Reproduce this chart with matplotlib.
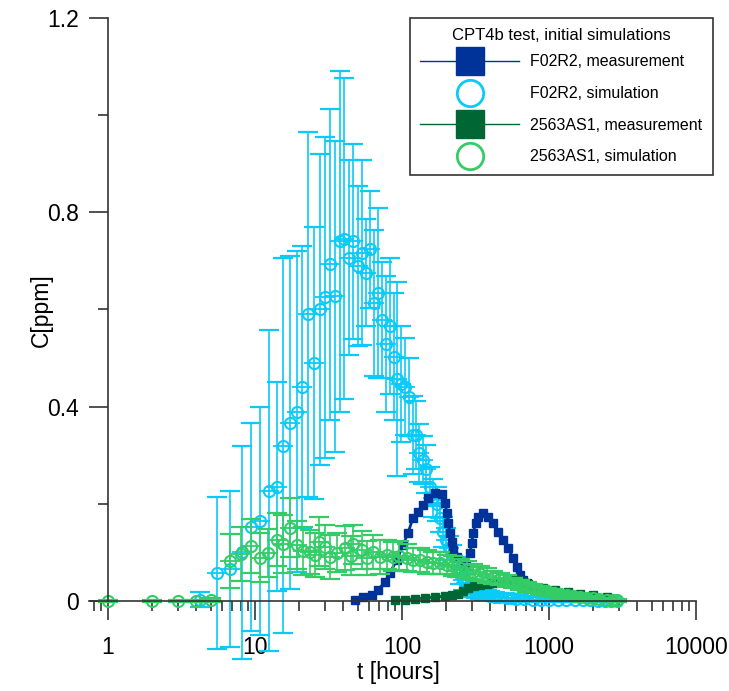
import numpy as np
import matplotlib.pyplot as plt
from matplotlib.lines import Line2D

plt.rcParams['font.family'] = ['Liberation Sans', 'DejaVu Sans']

# F02R2 measurement (t [h], C [ppm])
f02_meas_t = [47.9, 54.3, 62.5, 68.7, 76.6, 82.8, 92.5, 101.6, 109.9, 118.8, 128.5, 139, 150.3,
              167.6, 187, 196, 202, 206, 212, 219, 222, 237, 256, 272, 290, 299, 304, 319, 329,
              356, 385, 416, 450, 486, 526, 569, 606, 635, 666, 708]
f02_meas_c = [0.002, 0.008, 0.012, 0.023, 0.039, 0.058, 0.085, 0.115, 0.14, 0.171, 0.184, 0.198, 0.212,
              0.223, 0.221, 0.202, 0.181, 0.161, 0.14, 0.122, 0.105, 0.091, 0.078, 0.072, 0.099, 0.12,
              0.14, 0.161, 0.173, 0.181, 0.173, 0.161, 0.142, 0.126, 0.109, 0.089, 0.07, 0.054, 0.043, 0.037]

# F02R2 simulation with error
f02_sim_t = [4.2, 5.5, 6.8, 8.2, 9.4, 10.8, 12.4, 14.1, 15.5, 17.3, 19.3, 20.9, 22.9, 25.2, 27.7,
             29.9, 32.4, 35.0, 37.9, 40.3, 43.6, 46.4, 50.2, 53.5, 56.9, 60.6, 64.5, 68.7, 73.1,
             77.8, 82.8, 88.2, 92.5, 98.5, 104.8, 111.6, 118.8, 124.6, 130.5, 139, 145.6, 155,
             162.5, 173, 181, 190, 199, 209, 219,
             237, 250, 260, 272, 285, 304, 320, 340, 360, 378, 400, 430, 460, 518, 560, 600, 680,
             778, 880, 1000, 1150, 1300, 1500, 1700, 1900, 2150, 2400, 2650, 2900]
f02_sim_c = [0.003, 0.058, 0.066, 0.10, 0.153, 0.165, 0.227, 0.235, 0.32, 0.367, 0.39, 0.44, 0.59, 0.49, 0.60,
             0.625, 0.693, 0.627, 0.74, 0.746, 0.707, 0.74, 0.689, 0.717, 0.676, 0.724, 0.614, 0.633, 0.578,
             0.528, 0.567, 0.503, 0.457, 0.447, 0.441, 0.42, 0.342, 0.342, 0.305, 0.29, 0.272, 0.235,
             0.212, 0.20, 0.171, 0.142, 0.126, 0.109, 0.095,
             0.07, 0.055, 0.043, 0.038, 0.03, 0.023, 0.02, 0.016, 0.014, 0.012, 0.011, 0.009, 0.008, 0.006,
             0.006, 0.005, 0.004, 0.003, 0.003, 0.002, 0.002, 0.0015, 0.001, 0.001, 0.001, 0.0005, 0.0005,
             0.0005, 0.0]
f02_sim_err = [0.016, 0.157, 0.16, 0.22, 0.214, 0.235, 0.33, 0.215, 0.385, 0.343, 0.33, 0.29, 0.375, 0.28, 0.32,
               0.33, 0.32, 0.32, 0.35, 0.33, 0.2, 0.2, 0.165, 0.19, 0.11, 0.12, 0.15, 0.175, 0.12,
               0.14, 0.14, 0.13, 0.2, 0.12, 0.1, 0.08, 0.08, 0.07, 0.06, 0.05, 0.05, 0.04,
               0.04, 0.035, 0.03, 0.03, 0.025, 0.025, 0.02,
               0.02, 0.02, 0.02, 0.018, 0.016, 0.015, 0.014, 0.012, 0.012, 0.01, 0.01, 0.01, 0.009, 0.008,
               0.008, 0.008, 0.007, 0.006, 0.005, 0.005, 0.004, 0.004, 0.003, 0.003, 0.003, 0.002, 0.002,
               0.002, 0.002]

# 2563AS1 measurement
as1_meas_t = [89.6, 104.8, 122.5, 143, 167.6, 196, 219, 240, 260, 281, 309, 340, 378, 416, 464, 518,
              569, 615, 666, 720, 778, 910, 1099, 1346, 1625, 1992, 2484]
as1_meas_c = [0.002, 0.002, 0.004, 0.006, 0.008, 0.01, 0.012, 0.014, 0.021, 0.027, 0.031, 0.033, 0.035,
              0.037, 0.039, 0.043, 0.045, 0.043, 0.039, 0.035, 0.029, 0.027, 0.023, 0.019, 0.014, 0.012, 0.008]

# 2563AS1 simulation with error
as1_sim_t = [1, 2, 3, 4, 5, 6.76, 8.04, 9.4, 10.8, 12.2, 14.1, 15.5, 17.3, 19.3, 21.2, 23.6, 25.6, 27.2,
             29.9, 32.4, 36.1, 40.9, 45.3, 46.4, 53.5, 57.8, 63.5, 70.5, 78.9, 86.8, 96, 108, 119, 133,
             147, 163, 181, 202, 222, 249, 276, 304, 339, 378, 416, 464, 518, 569, 635, 708, 778, 865,
             965, 1063, 1188, 1320, 1450, 1620, 1800, 2000, 2200, 2480, 2720, 2900]
as1_sim_c = [0.0, 0.0, 0.0, 0.0, 0.002, 0.082, 0.097, 0.113, 0.089, 0.099, 0.126, 0.118, 0.151, 0.115, 0.103,
             0.101, 0.095, 0.122, 0.111, 0.091, 0.099, 0.109, 0.093, 0.117, 0.105, 0.089, 0.101, 0.091,
             0.095, 0.091, 0.093, 0.089, 0.085, 0.085, 0.08, 0.078, 0.078, 0.075, 0.072, 0.068, 0.064,
             0.06, 0.056, 0.052, 0.048, 0.045, 0.041, 0.037, 0.033, 0.029, 0.026, 0.023, 0.02, 0.017,
             0.015, 0.013, 0.011, 0.009, 0.007, 0.006, 0.004, 0.003, 0.002, 0.001]
as1_sim_err = [0.003, 0.003, 0.003, 0.003, 0.005, 0.055, 0.055, 0.055, 0.05, 0.05, 0.055, 0.06, 0.06, 0.05, 0.05,
               0.045, 0.045, 0.05, 0.045, 0.045, 0.04, 0.045, 0.04, 0.04, 0.04, 0.035, 0.035, 0.035,
               0.03, 0.03, 0.03, 0.028, 0.025, 0.025, 0.025, 0.022, 0.022, 0.02, 0.02, 0.018, 0.018,
               0.016, 0.015, 0.015, 0.014, 0.013, 0.012, 0.011, 0.01, 0.01, 0.009, 0.008, 0.007, 0.007,
               0.006, 0.006, 0.005, 0.005, 0.004, 0.004, 0.003, 0.003, 0.003, 0.003]

c_blue = '#003399'
c_cyan = '#0ACBF8'
c_dgreen = '#006633'
c_green = '#33CC66'

fig = plt.figure(figsize=(7.29, 6.91), dpi=100)
ax = fig.add_axes([89 / 729, 22 / 691, 607 / 729, 651 / 691])


def sim(t, c, e, col):
    ax.errorbar(t, c, yerr=e, fmt='none', ecolor=col, elinewidth=1.2, capsize=7, capthick=1.6)
    ax.plot(t, c, 'o', ls='none', mfc='none', mec=col, ms=8, mew=1.5)
    ax.plot(t, c, '_', ls='none', color=col, ms=15, mew=1.3)


sim(f02_sim_t, f02_sim_c, f02_sim_err, c_cyan)
ax.plot(f02_meas_t, f02_meas_c, color=c_blue, lw=2, marker='s', ms=6, mec=c_blue, mfc=c_blue)
ax.plot(as1_meas_t, as1_meas_c, color=c_dgreen, lw=2, marker='s', ms=6, mec=c_dgreen, mfc=c_dgreen)
sim(as1_sim_t, as1_sim_c, as1_sim_err, c_green)

ax.set_xscale('log')
ax.set_xlim(0.743, 10000)
ax.set_ylim(-0.14, 1.2)

for s in ['top', 'right']:
    ax.spines[s].set_visible(False)
ax.spines['left'].set_position(('data', 1))
ax.spines['left'].set_bounds(0, 1.2)
ax.spines['bottom'].set_position(('data', 0))
ax.spines['bottom'].set_bounds(0.743, 10000)
for s in ['left', 'bottom']:
    ax.spines[s].set_color('#333333')
    ax.spines[s].set_linewidth(1.2)

ax.set_yticks([0, 0.4, 0.8, 1.2])
ax.set_yticklabels(['0', '0.4', '0.8', '1.2'])
ax.set_yticks([0.2, 0.6, 1.0], minor=True)
ax.set_xticks([1, 10, 100, 1000, 10000])
ax.set_xticklabels(['1', '10', '100', '1000', '10000'])
ax.tick_params(which='major', direction='out', length=14, width=1.2, color='#333333',
               labelsize=16.5)
ax.tick_params(which='minor', direction='out', length=7, width=1.2, color='#333333')
ax.tick_params(axis='x', which='major', pad=11)
ax.tick_params(axis='y', which='major', pad=7)
ax.tick_params(axis='x', which='minor', labelbottom=False)

fig.text(398 / 729, 1 - 672 / 691, 't [hours]', ha='center', va='center', fontsize=16.5)
fig.text(41 / 729, 1 - 310 / 691, 'C[ppm]', ha='center', va='center', rotation=90, fontsize=16.5)

handles = [
    Line2D([], [], color=c_blue, lw=1, marker='s', ms=20, mfc=c_blue, mec=c_blue),
    Line2D([], [], ls='none', marker='o', ms=19, mfc='none', mec=c_cyan, mew=2),
    Line2D([], [], color=c_dgreen, lw=1, marker='s', ms=20, mfc=c_dgreen, mec=c_dgreen),
    Line2D([], [], ls='none', marker='o', ms=19, mfc='none', mec=c_green, mew=2),
]
labels = ['F02R2, measurement', 'F02R2, simulation', '2563AS1, measurement', '2563AS1, simulation']
leg = ax.legend(handles, labels, loc='upper right', bbox_to_anchor=(713 / 729, 1 - 18 / 691),
                bbox_transform=fig.transFigure, fontsize=11.5, title='CPT4b test, initial simulations',
                title_fontsize=12, frameon=True, fancybox=False, edgecolor='black',
                handlelength=6.2, handletextpad=0.7, labelspacing=1.04, borderpad=0.65,
                borderaxespad=0)
leg._legend_box.sep = 8
leg.get_frame().set_linewidth(1.2)

plt.savefig('out.png', dpi=100)
